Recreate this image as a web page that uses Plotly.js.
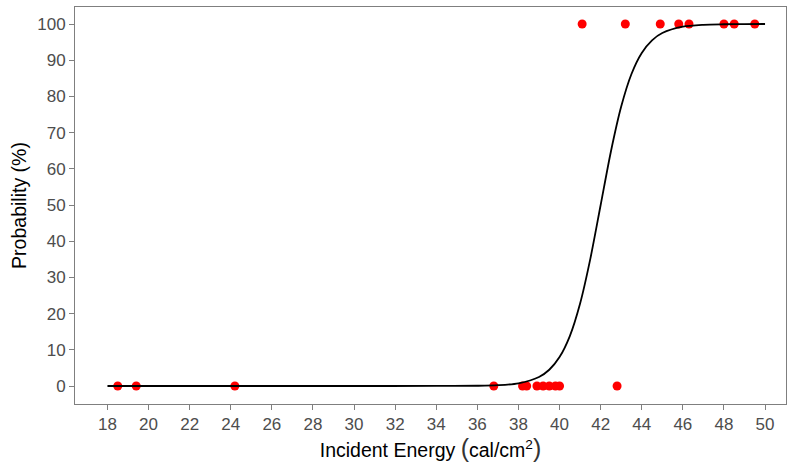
<!DOCTYPE html>
<html>
<head>
<meta charset="utf-8">
<script src="https://cdn.plot.ly/plotly-3.0.1.min.js"></script>
<style>html,body{margin:0;padding:0;background:#fff;}#chart{width:787px;height:464px;}</style>
</head>
<body>
<div id="chart"></div>
<script>
// Observed outcomes (incident energy, cal/cm^2) and probability (%)
const obsEnergy = [18.5, 19.4, 24.2, 36.8, 38.2, 38.4, 38.9, 39.2, 39.5, 39.8, 40.0, 42.8,
                   41.1, 43.2, 44.9, 45.8, 46.3, 48.0, 48.5, 49.5];
const obsProb   = [0, 0, 0, 0, 0, 0, 0, 0, 0, 0, 0, 0,
                   100, 100, 100, 100, 100, 100, 100, 100];

// Fitted curve
const curveEnergy = [18, 24, 30, 34, 36, 37, 38, 39, 39.5, 40, 40.5, 41, 41.5, 42, 42.5, 43, 43.5, 44, 44.5, 45, 46, 47, 48, 49, 50];
const curveProb   = [0, 0, 0, 0.01, 0.07, 0.22, 0.75, 2.5, 4.5, 8.0, 13.8, 22.8, 35.2, 50, 64.8, 77.2, 86.2, 92.0, 95.5, 97.5, 99.25, 99.78, 99.93, 99.98, 100];

const xTicks = [18, 20, 22, 24, 26, 28, 30, 32, 34, 36, 38, 40, 42, 44, 46, 48, 50];
const yTicks = [0, 10, 20, 30, 40, 50, 60, 70, 80, 90, 100];

const font = "Liberation Sans, Arial, sans-serif";

const traces = [
  {
    x: obsEnergy, y: obsProb, type: 'scatter', mode: 'markers',
    marker: {color: '#ff0000', size: 9, line: {width: 0}},
    hoverinfo: 'x+y', showlegend: false
  },
  {
    x: curveEnergy, y: curveProb, type: 'scatter', mode: 'lines',
    line: {color: '#000000', width: 1.8, shape: 'spline', smoothing: 0.8},
    hoverinfo: 'skip', showlegend: false
  }
];

const axisCommon = {
  showgrid: false, zeroline: false,
  showline: true, mirror: true, linecolor: '#7f7f7f', linewidth: 1,
  ticks: 'outside', ticklen: 5, tickwidth: 1, tickcolor: '#7f7f7f',
  tickfont: {family: font, size: 17, color: '#4d4d4d'}
};

const layout = {
  width: 787, height: 464,
  margin: {l: 75, r: 1, t: 7, b: 60},
  paper_bgcolor: '#ffffff', plot_bgcolor: '#ffffff',
  showlegend: false,
  xaxis: Object.assign({}, axisCommon, {
    range: [16.42, 51.02],
    tickmode: 'array', tickvals: xTicks, ticktext: xTicks.map(String),
    title: {text: 'Incident Energy <span style="font-size:25px;fill:#333">(</span>cal/cm<sup>2</sup><span style="font-size:25px;fill:#333">)</span>',
            font: {family: font, size: 19.5, color: '#000'}, standoff: 9}
  }),
  yaxis: Object.assign({}, axisCommon, {
    range: [-4.97, 104.7],
    tickmode: 'array', tickvals: yTicks, ticktext: yTicks.map(String),
    title: {text: 'Probability (%)', font: {family: font, size: 19.5, color: '#000'}, standoff: 5}
  })
};

Plotly.newPlot('chart', traces, layout, {displayModeBar: false, staticPlot: true});
</script>
</body>
</html>
